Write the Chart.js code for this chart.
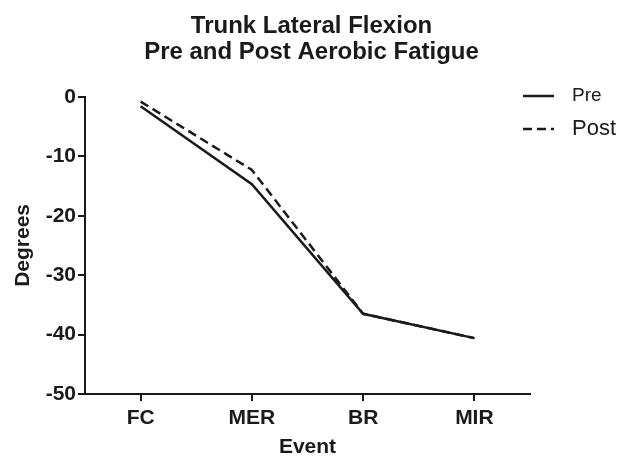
<!DOCTYPE html>
<html>
<head>
<meta charset="utf-8">
<script src="https://cdn.jsdelivr.net/npm/chart.js@4/dist/chart.umd.min.js"></script>
<style>
    html, body { margin: 0; padding: 0; background: #fff; }
    #wrap { width: 623px; height: 458px; }
</style>
</head>
<body>
<div id="wrap"><canvas id="flexion-canvas"></canvas></div>
<script>
const events = ['FC', 'MER', 'BR', 'MIR'];
const pre_values = [-1.6, -14.7, -36.5, -40.6];
const post_values = [-0.8, -12.3, -36.5, -40.6];
const y_ticks = [0, -10, -20, -30, -40, -50];
const title_lines = ['Trunk Lateral Flexion', 'Pre and Post Aerobic Fatigue'];

const ink = '#1a1a1a';
const font_family = '"Liberation Sans", Arial, sans-serif';

// legend with its own sizes per entry, drawn right of the plot
const side_legend = {
    id: 'side_legend',
    afterDraw(chart, args, opts) {
        const ctx = chart.ctx;
        const x0 = chart.chartArea.right - 7;
        chart.data.datasets.forEach((ds, i) => {
            const y = opts.rows[i];
            ctx.save();
            ctx.strokeStyle = ds.borderColor;
            ctx.lineWidth = 2.5;
            ctx.setLineDash(ds.borderDash || []);
            ctx.beginPath();
            ctx.moveTo(x0, y);
            ctx.lineTo(x0 + 31, y);
            ctx.stroke();
            ctx.setLineDash([]);
            ctx.fillStyle = ink;
            ctx.font = opts.sizes[i] + 'px ' + font_family;
            ctx.textBaseline = 'middle';
            ctx.fillText(ds.label, x0 + 49, y);
            ctx.restore();
        });
    }
};

function make_chart(canvas_id) {
    const ctx = document.getElementById(canvas_id).getContext('2d');
    return new Chart(ctx, {
        type: 'line',
        data: {
            labels: events,
            datasets: [{
                label: 'Pre',
                data: pre_values,
                borderColor: ink,
                borderWidth: 2.5,
                pointRadius: 0,
                tension: 0
            }, {
                label: 'Post',
                data: post_values,
                borderColor: ink,
                borderWidth: 2.5,
                borderDash: [9, 5],
                pointRadius: 0,
                tension: 0
            }]
        },
        options: {
            responsive: true,
            maintainAspectRatio: false,
            animation: false,
            layout: {
                padding: 0
            },
            plugins: {
                legend: { display: false },
                tooltip: { enabled: false },
                title: {
                    display: true,
                    text: title_lines,
                    color: ink,
                    font: { family: font_family, size: 24, weight: 'bold', lineHeight: 1.08 },
                    padding: { top: 13, bottom: 32 }
                },
                side_legend: {
                    rows: [96, 129],
                    sizes: [19, 22]
                }
            },
            scales: {
                x: {
                    offset: true,
                    afterFit: (scale) => { scale.height = 64; },
                    grid: {
                        display: true,
                        drawOnChartArea: false,
                        drawTicks: true,
                        tickLength: 7,
                        color: ink,
                        lineWidth: 2
                    },
                    border: { display: true, color: ink, width: 2 },
                    ticks: {
                        color: ink,
                        padding: 5,
                        font: { family: font_family, size: 21, weight: 'bold' }
                    },
                    title: {
                        display: true,
                        text: 'Event',
                        color: ink,
                        font: { family: font_family, size: 21, weight: 'bold', lineHeight: 1 },
                        padding: { top: 0, bottom: 0 }
                    }
                },
                y: {
                    min: -50,
                    max: 0,
                    afterFit: (scale) => { scale.width = 85; },
                    afterBuildTicks: (scale) => {
                        scale.ticks = y_ticks.map((v) => ({ value: v }));
                    },
                    grid: {
                        display: true,
                        drawOnChartArea: false,
                        drawTicks: true,
                        tickLength: 7,
                        color: ink,
                        lineWidth: 2
                    },
                    border: { display: true, color: ink, width: 2 },
                    ticks: {
                        color: ink,
                        padding: 2,
                        font: { family: font_family, size: 21, weight: 'bold' }
                    },
                    title: {
                        display: true,
                        text: 'Degrees',
                        color: ink,
                        font: { family: font_family, size: 21, weight: 'bold' },
                        padding: { top: 11, bottom: 0 }
                    }
                },
                // empty right-hand scale, only keeps room for the legend
                // so the title stays centred on the whole canvas
                legend_room: {
                    position: 'right',
                    display: true,
                    afterFit: (scale) => { scale.width = 93; },
                    grid: { display: false },
                    border: { display: false },
                    ticks: { display: false }
                }
            }
        },
        plugins: [side_legend]
    });
}

make_chart('flexion-canvas');
</script>
</body>
</html>
